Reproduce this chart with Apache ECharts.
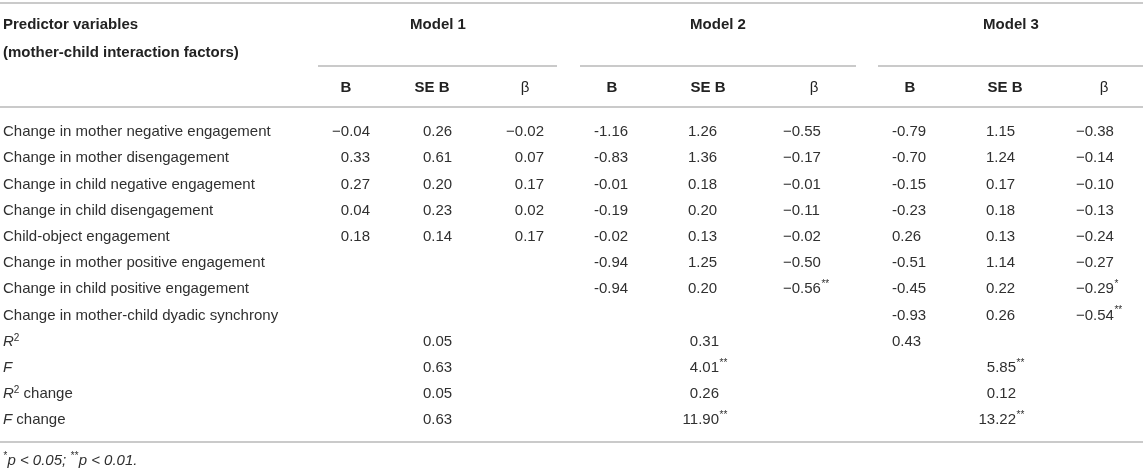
<!DOCTYPE html>
<html><head><meta charset="utf-8">
<script src="https://cdn.jsdelivr.net/npm/echarts@6/dist/echarts.min.js"></script>
<style>html,body{margin:0;padding:0;background:#fff}#c{width:1143px;height:468px}</style>
</head><body><div id="c"></div>
<script>
// ---- data ----
const rowLabels = [
  'Change in mother negative engagement',
  'Change in mother disengagement',
  'Change in child negative engagement',
  'Change in child disengagement',
  'Child-object engagement',
  'Change in mother positive engagement',
  'Change in child positive engagement',
  'Change in mother-child dyadic synchrony',
  'R² ',
  'F ',
  'R² change',
  'F change'
];
const modelNames = ['Model 1', 'Model 2', 'Model 3'];
const colHeads = ['B', 'SE B', 'β'];

const m1B    = [-0.04, 0.33, 0.27, 0.04, 0.18, null, null, null];
const m1SE   = [0.26, 0.61, 0.20, 0.23, 0.14, null, null, null];
const m1Beta = [-0.02, 0.07, 0.17, 0.02, 0.17, null, null, null];
const m2B    = [-1.16, -0.83, -0.01, -0.19, -0.02, -0.94, -0.94, null];
const m2SE   = [1.26, 1.36, 0.18, 0.20, 0.13, 1.25, 0.20, null];
const m2Beta = [-0.55, -0.17, -0.01, -0.11, -0.02, -0.50, -0.56, null];
const m2BetaSig = ['', '', '', '', '', '', '**', ''];
const m3B    = [-0.79, -0.70, -0.15, -0.23, 0.26, -0.51, -0.45, -0.93];
const m3SE   = [1.15, 1.24, 0.17, 0.18, 0.13, 1.14, 0.22, 0.26];
const m3Beta = [-0.38, -0.14, -0.10, -0.13, -0.24, -0.27, -0.29, -0.54];
const m3BetaSig = ['', '', '', '', '', '', '*', '**'];

const r2Stat     = [0.05, 0.31, 0.43];
const fStat      = [0.63, 4.01, 5.85];
const fSig       = ['', '**', '**'];
const r2Change   = [0.05, 0.26, 0.12];
const fChange    = [0.63, 11.90, 13.22];
const fChangeSig = ['', '**', '**'];

const footnote = ['*', 'p < 0.05; ', '**', 'p < 0.01.'];

// ---- layout / style ----
const W = 1143;
const FAM = '"Liberation Sans", Arial, sans-serif';
const FONT = '15px ' + FAM;
const BOLD = 'bold 15px ' + FAM;
const TXT = '#303030';
const HEAD = '#222';
const RULE = '#b8b8b8';
const DY = 2;

const mc = document.createElement('canvas').getContext('2d');
function textW(s, f) { mc.font = f; return mc.measureText(s).width; }

function fmt(v, minus) { return (v < 0 ? minus : '') + Math.abs(v).toFixed(2); }

// column specs: values, stars, anchor x, alignment, minus sign glyph
const columns = [
  { v: m1B, x: 370, align: 'right', minus: '−' },
  { v: m1SE, x: 423, align: 'left', minus: '−' },
  { v: m1Beta, x: 544, align: 'right', minus: '−' },
  { v: m2B, x: 594, align: 'left', minus: '-' },
  { v: m2SE, x: 688, align: 'left', minus: '-' },
  { v: m2Beta, s: m2BetaSig, x: 783, align: 'left', minus: '−' },
  { v: m3B, x: 892, align: 'left', minus: '-' },
  { v: m3SE, x: 986, align: 'left', minus: '-' },
  { v: m3Beta, s: m3BetaSig, x: 1076, align: 'left', minus: '−' }
];
// statistics rows: per model anchor
const statRows = [
  { v: r2Stat, row: 8 },
  { v: fStat, s: fSig, row: 9 },
  { v: r2Change, row: 10 },
  { v: fChange, s: fChangeSig, row: 11 }
];
const statPos = [
  [{ x: 423, align: 'left' }, { x: 719, align: 'right' }, { x: 892, align: 'left' }],
  [{ x: 423, align: 'left' }, { x: 719, align: 'right' }, { x: 1016, align: 'right' }],
  [{ x: 423, align: 'left' }, { x: 719, align: 'right' }, { x: 1016, align: 'right' }],
  [{ x: 423, align: 'left' }, { x: 719, align: 'right' }, { x: 1016, align: 'right' }]
];

const cells = [];
columns.forEach(c => {
  c.v.forEach((val, r) => {
    if (val === null) return;
    cells.push({ x: c.x, row: r, text: fmt(val, c.minus), sig: c.s ? c.s[r] : '', align: c.align });
  });
});
statRows.forEach((sr, k) => {
  sr.v.forEach((val, m) => {
    const p = statPos[k][m];
    cells.push({ x: p.x, row: sr.row, text: fmt(val, '-'), sig: sr.s ? sr.s[m] : '', align: p.align });
  });
});

function renderCell(params, api) {
  const c = cells[params.dataIndex];
  const p = api.coord([api.value(0), api.value(1)]);
  const children = [{
    type: 'text', x: p[0], y: p[1],
    style: { text: c.text, font: FONT, fill: TXT, align: c.align, verticalAlign: 'middle' }
  }];
  if (c.sig) {
    const right = c.align === 'right' ? p[0] : p[0] + textW(c.text, FONT);
    children.push({
      type: 'text', x: right + 0.5, y: p[1] - 5,
      style: { text: c.sig, font: '10px ' + FAM, fill: TXT, align: 'left', verticalAlign: 'middle' }
    });
  }
  return { type: 'group', children };
}

// header graphics
const modelCenters = [438, 718, 1011];
const headCenters = [[346, 432, 525], [612, 708, 814], [910, 1005, 1104]];
const subRules = [[318, 557], [580, 856], [878, 1143]];
const graphics = [];
function rule(x1, x2, y) {
  graphics.push({ type: 'line', shape: { x1, y1: y, x2, y2: y }, style: { stroke: RULE, lineWidth: 1.5 }, silent: true });
}
function label(text, x, y, font, align, fill) {
  graphics.push({ type: 'text', x, y: y + DY, style: { text, font, fill: fill || HEAD, align, verticalAlign: 'middle' }, silent: true });
}
rule(0, W, 3);
rule(0, W, 107);
rule(0, W, 442);
subRules.forEach(r => rule(r[0], r[1], 66));
label('Predictor variables', 3, 23, BOLD, 'left');
label('(mother-child interaction factors)', 3, 51, BOLD, 'left');
modelNames.forEach((m, i) => {
  label(m, modelCenters[i], 23, BOLD, 'center');
  colHeads.forEach((h, j) => {
    label(h, headCenters[i][j], 86, h === 'β' ? FONT : BOLD, 'center');
  });
});
// footnote
(function () {
  let x = 3;
  const supF = 'italic 10px ' + FAM;
  const itF = 'italic 15px ' + FAM;
  footnote.forEach((t, i) => {
    const sup = i % 2 === 0;
    const f = sup ? supF : itF;
    graphics.push({ type: 'text', x, y: sup ? 456 : 461, style: { text: t, font: f, fill: TXT, align: 'left', verticalAlign: 'middle' }, silent: true });
    x += textW(t, f) + (sup ? 0.5 : 0);
  });
})();

const chart = echarts.init(document.getElementById('c'), null, { renderer: 'canvas' });
chart.setOption({
  animation: false,
  backgroundColor: '#fff',
  grid: { left: 0, right: 0, top: 116.9 + DY, height: 314.4 },
  xAxis: { type: 'value', min: 0, max: W, show: false },
  yAxis: {
    type: 'category', data: rowLabels, inverse: true,
    axisLine: { show: false }, axisTick: { show: false }, splitLine: { show: false },
    axisLabel: {
      inside: true, margin: 3, interval: 0, align: 'left',
      color: TXT, fontSize: 15, fontFamily: FAM,
      formatter: v => {
        if (v.startsWith('R²')) return '{i|R}{sup|2}' + (v.trim().length > 2 ? '{n|' + v.slice(2) + '}' : '');
        if (v.startsWith('F ')) return '{i|F}' + (v.trim().length > 1 ? '{n|' + v.slice(1) + '}' : '');
        return v;
      },
      rich: {
        i: { fontStyle: 'italic', fontSize: 15, color: TXT, fontFamily: FAM },
        sup: { fontSize: 10, color: TXT, verticalAlign: 'top', padding: [0, 0, 7, 0], fontFamily: FAM },
        n: { fontSize: 15, color: TXT, fontFamily: FAM }
      }
    }
  },
  graphic: graphics,
  series: [{
    type: 'custom',
    renderItem: renderCell,
    data: cells.map(c => [c.x, c.row]),
    silent: true
  }]
});
</script></body></html>
